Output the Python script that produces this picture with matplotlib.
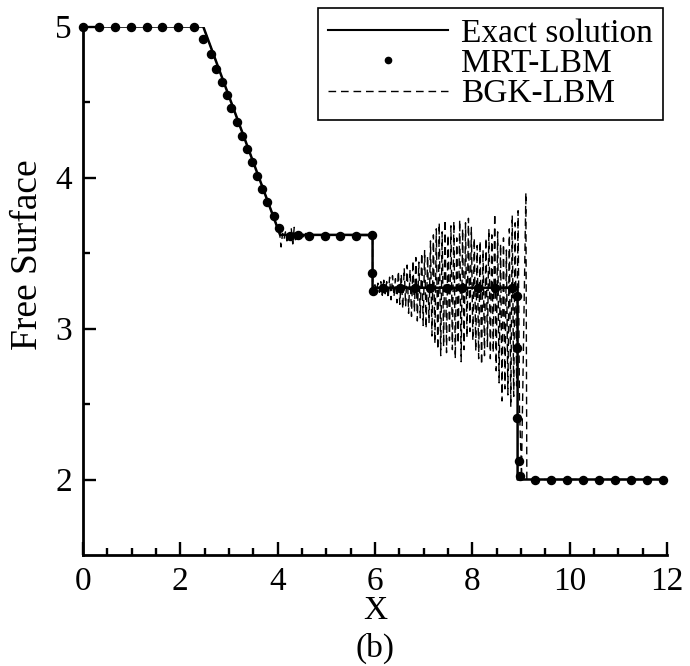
import matplotlib
matplotlib.use('Agg')
import matplotlib.pyplot as plt
import numpy as np
from matplotlib.lines import Line2D

plt.rcParams['font.family'] = ['Liberation Serif', 'DejaVu Serif']
plt.rcParams['mathtext.fontset'] = 'stix'

# exact solution (piecewise)
exact_x = [0, 2.47, 4.05, 5.95, 5.95, 8.93, 8.93, 12.0]
exact_y = [5.0, 5.0, 3.62, 3.62, 3.27, 3.27, 2.0, 2.0]

# MRT-LBM symbols
mrt_x = [0, 0.33, 0.65, 0.98, 1.31, 1.63, 1.96, 2.28,
         2.47, 2.62, 2.74, 2.85, 2.95, 3.05, 3.16, 3.26, 3.36, 3.47, 3.57, 3.68, 3.79, 3.92, 4.03,
         4.25, 4.41, 4.65, 4.97, 5.28, 5.61, 5.93, 5.94, 5.96,
         6.17, 6.51, 6.82, 7.13, 7.47, 7.78, 8.12, 8.47, 8.81,
         8.91, 8.91, 8.92, 8.95, 8.97,
         9.29, 9.62, 9.94, 10.27, 10.60, 10.93, 11.25, 11.58, 11.91]
mrt_y = [5.0, 5.0, 5.0, 5.0, 5.0, 5.0, 5.0, 5.0,
         4.92, 4.82, 4.72, 4.63, 4.545, 4.457, 4.368, 4.275, 4.19, 4.10, 4.012, 3.924, 3.836, 3.748, 3.664,
         3.61, 3.62, 3.61, 3.61, 3.61, 3.61, 3.62, 3.37, 3.25,
         3.27, 3.27, 3.27, 3.27, 3.27, 3.27, 3.27, 3.27, 3.27,
         3.215, 2.87, 2.405, 2.125, 2.02,
         2.0, 2.0, 2.0, 2.0, 2.0, 2.0, 2.0, 2.0, 2.0]

# BGK-LBM: smooth part, small wiggles behind the rarefaction, big oscillations behind the bore
bgk_head_x = [0, 2.47, 4.04, 4.07]
bgk_head_y = [5.0, 5.0, 3.63, 3.54]
wig_x = np.round(np.arange(4.10, 4.71, 0.03), 2)
wig_y = [3.63, 3.59, 3.64, 3.58, 3.63, 3.60, 3.66, 3.56, 3.67, 3.57, 3.64,
         3.59, 3.63, 3.60, 3.62, 3.60, 3.63, 3.60, 3.62, 3.61, 3.62]
bgk_mid_x = [5.95, 5.95]
bgk_mid_y = [3.615, 3.27]
osc_hi = [3.29, 3.30, 3.31, 3.32, 3.31, 3.34, 3.35, 3.33, 3.38, 3.36,
          3.40, 3.42, 3.39, 3.45, 3.47, 3.44, 3.50, 3.52, 3.48, 3.58,
          3.62, 3.66, 3.70, 3.64, 3.72, 3.62, 3.68, 3.71, 3.60, 3.72,
          3.66, 3.70, 3.73, 3.67, 3.60, 3.55, 3.58, 3.52, 3.60, 3.66,
          3.62, 3.76, 3.64, 3.56, 3.60, 3.52, 3.66, 3.75, 3.70, 3.78]
osc_lo = [3.25, 3.24, 3.22, 3.23, 3.20, 3.19, 3.21, 3.17, 3.16, 3.13,
          3.15, 3.10, 3.08, 3.11, 3.05, 3.07, 3.02, 3.00, 3.04, 2.95,
          2.90, 2.86, 2.82, 2.88, 2.84, 2.92, 2.86, 2.80, 2.90, 2.78,
          2.86, 2.94, 2.98, 2.92, 2.85, 2.80, 2.76, 2.82, 2.88, 2.80,
          2.84, 2.72, 2.64, 2.52, 2.60, 2.56, 2.48, 2.55, 2.62, 2.45]
bgk_tail_x = [9.01, 9.10, 9.12, 12.0]
bgk_tail_y = [2.05, 3.90, 2.0, 2.0]

osc_x = np.round(np.arange(len(osc_hi) * 2) * 0.03 + 6.0, 2)
osc_y = np.empty(len(osc_hi) * 2)
osc_y[0::2] = osc_hi
osc_y[1::2] = osc_lo

bgk_x = np.concatenate([bgk_head_x, wig_x, bgk_mid_x, osc_x, bgk_tail_x])
bgk_y = np.concatenate([bgk_head_y, wig_y, bgk_mid_y, osc_y, bgk_tail_y])

fig = plt.figure(figsize=(6.9, 6.66), dpi=100)
ax = fig.add_axes([83 / 690, 1 - 555 / 666, 584 / 690, 528.5 / 666])

ax.plot(bgk_x, bgk_y, color='black', lw=1.0, dashes=(5.5, 3.5), zorder=2)
ax.plot(exact_x, exact_y, color='black', lw=1.8, zorder=3)
ax.plot(mrt_x, mrt_y, 'o', color='black', ms=5.8, zorder=4, clip_on=False)

ax.set_xlim(0, 12)
ax.set_ylim(1.5, 5)
ax.set_xticks(range(0, 13, 2))
ax.set_xticks(np.arange(0, 12.01, 0.5), minor=True)
ax.set_yticks([2, 3, 4, 5])
ax.set_yticks([2.5, 3.5, 4.5], minor=True)

for s in ['top', 'right']:
    ax.spines[s].set_visible(False)
for s in ['left', 'bottom']:
    ax.spines[s].set_linewidth(2.0)
ax.tick_params(which='major', direction='in', length=9.5, width=1.7, labelsize=24, pad=8)
ax.tick_params(which='minor', direction='in', length=5, width=1.7)

ax.set_xlabel('X', fontsize=24, va='center')
ax.xaxis.set_label_coords(0.5, -0.106)
ax.set_ylabel('Free Surface', fontsize=27, va='center')
ax.yaxis.set_label_coords(-0.094, 0.568)

fig.text(375 / 690, 1 - 648 / 666, '(b)', fontsize=24, ha='center', va='center')

handles = [Line2D([], [], color='black', lw=1.5),
           Line2D([], [], ls='none', marker='o', color='black', ms=4.5),
           Line2D([], [], color='black', lw=1.0, dashes=(5.5, 3.5))]
leg = fig.legend(handles, ['Exact solution', 'MRT-LBM', 'BGK-LBM'],
                 loc='upper right', bbox_to_anchor=(663 / 690, 1 - 8 / 666),
                 fontsize=24, frameon=True, fancybox=False, edgecolor='black',
                 framealpha=1, borderaxespad=0, handlelength=3.6, handletextpad=0.4,
                 labelspacing=0.0, borderpad=0.3, numpoints=1)
leg.get_frame().set_linewidth(1.2)

fig.savefig('out.png', dpi=100)
